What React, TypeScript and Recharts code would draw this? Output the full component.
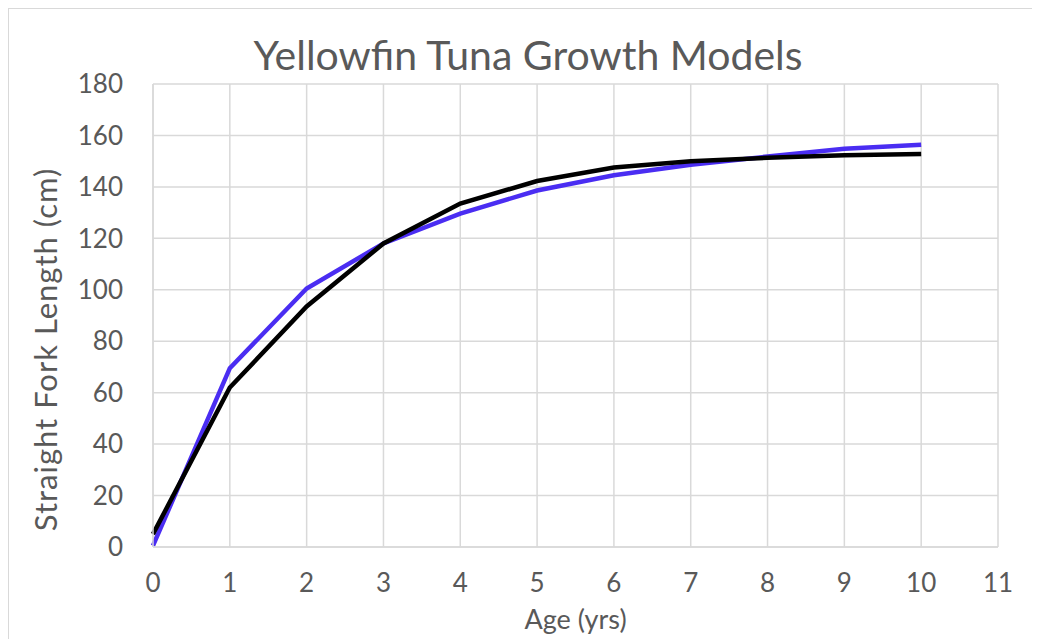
import { LineChart, Line, XAxis, YAxis, CartesianGrid, Label } from 'recharts';

// ages 0..10, lengths in cm
const ages = [0, 1, 2, 3, 4, 5, 6, 7, 8, 9, 10];
const modelBlue = [0.5, 69.5, 100.5, 118, 129.6, 138.6, 144.5, 148.6, 151.8, 154.8, 156.4];
const modelBlack = [5, 62, 93.5, 118, 133.5, 142.3, 147.5, 150, 151.3, 152.3, 152.8];
const xTicks = [0, 1, 2, 3, 4, 5, 6, 7, 8, 9, 10, 11];
const yTicks = [0, 20, 40, 60, 80, 100, 120, 140, 160, 180];

const data = ages.map((age, i) => ({ age, blue: modelBlue[i], black: modelBlack[i] }));

const FONT = 'Lato, "Open Sans", sans-serif';
const TEXT = '#595959';
const GRID = '#d9d9d9';

const YTitle = ({ viewBox }: any) => {
  const cx = viewBox.x - 28;
  const cy = viewBox.y + viewBox.height / 2 + 34;
  return (
    <text
      x={cx}
      y={cy}
      transform={`rotate(-90 ${cx} ${cy})`}
      textAnchor="middle"
      dominantBaseline="central"
      fontSize={31}
      letterSpacing={1}
      fontFamily={FONT}
      fill={TEXT}
    >
      Straight Fork Length (cm)
    </text>
  );
};

export default function App() {
  return (
    <div
      style={{
        position: 'relative',
        width: 1032,
        height: 631,
        borderTop: `1px solid ${GRID}`,
        borderLeft: `1px solid ${GRID}`,
        overflow: 'hidden',
        fontFamily: FONT,
      }}
    >
      <svg width={1032} height={631} style={{ position: 'absolute', left: 0, top: 0 }}>
        <text x={519} y={61} textAnchor="middle" fontSize={41} fontFamily={FONT} fill={TEXT}>
          Yellowfin Tuna Growth Models
        </text>
      </svg>
      <LineChart
        width={1032}
        height={631}
        data={data}
        margin={{ top: 75, right: 43, bottom: 33, left: 64 }}
        style={{ position: 'absolute', left: 0, top: 0 }}
      >
        <CartesianGrid stroke={GRID} strokeWidth={1.5} />
        <XAxis
          dataKey="age"
          type="number"
          domain={[0, 11]}
          ticks={xTicks}
          interval={0}
          height={60}
          stroke={GRID}
          strokeWidth={1.5}
          tickLine={false}
          tickSize={6}
          tickMargin={21}
          tick={{ fontSize: 26, fill: TEXT, fontFamily: FONT }}
        >
          <Label
            value="Age (yrs)"
            position="bottom"
            offset={3}
            fontSize={27}
            fontFamily={FONT}
            fill={TEXT}
          />
        </XAxis>
        <YAxis
          type="number"
          domain={[0, 180]}
          ticks={yTicks}
          interval={0}
          width={80}
          stroke={GRID}
          strokeWidth={1.5}
          tickLine={false}
          tickSize={6}
          tickMargin={24}
          tick={{ fontSize: 26, fill: TEXT, fontFamily: FONT }}
        >
          <Label content={<YTitle />} />
        </YAxis>
        <Line
          dataKey="blue"
          stroke="#4a2df2"
          strokeWidth={4.5}
          dot={false}
          isAnimationActive={false}
        />
        <Line
          dataKey="black"
          stroke="#000000"
          strokeWidth={4.5}
          dot={false}
          isAnimationActive={false}
        />
      </LineChart>
    </div>
  );
}
